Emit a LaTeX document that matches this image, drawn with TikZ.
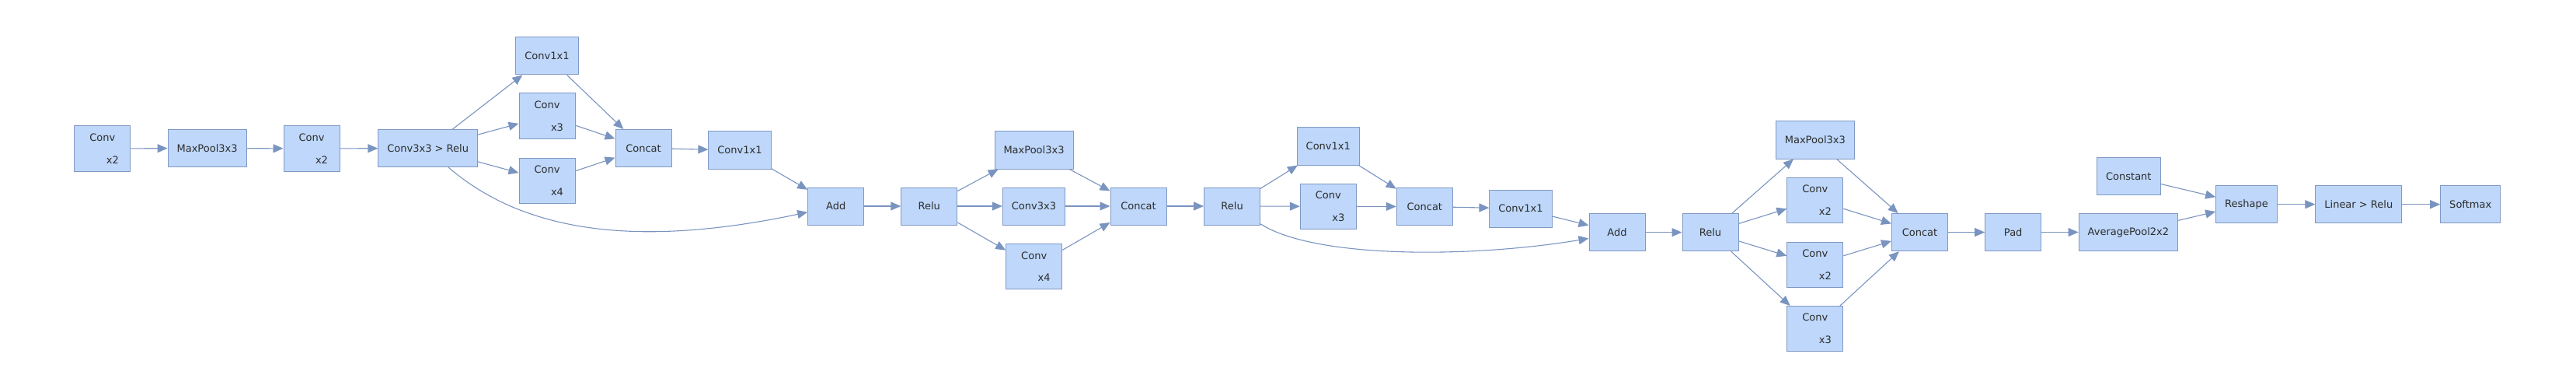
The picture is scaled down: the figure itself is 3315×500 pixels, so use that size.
\documentclass[tikz,border=0pt]{standalone}
\usepackage{fontspec}
\setmainfont{DejaVu Sans}
\usepackage{tikz}
\usetikzlibrary{arrows.meta}
\definecolor{boxfill}{RGB}{190,215,250}
\definecolor{boxline}{RGB}{128,153,196}
\definecolor{edgeline}{RGB}{122,148,192}
\definecolor{labeltext}{RGB}{45,45,45}
\newcommand{\convrep}[1]{Conv\\[13pt]\hspace*{2em}x#1}

\begin{document}
\begin{tikzpicture}[x=1pt,y=-1pt,
  layer/.style={draw=boxline,fill=boxfill,line width=1pt,minimum width=72pt,minimum height=48pt,inner xsep=11.5pt,text=labeltext,font=\fontsize{13}{15.6}\selectfont},
  rep/.style={layer,minimum height=58pt,align=center},
  flow/.style={draw=edgeline,line width=1.1pt,-{Triangle[length=13pt,width=11pt]}}]

\useasboundingbox (0,0) rectangle (3315,500);

\node[rep]   (conv1) at (131.8,191)   {\convrep{2}};
\node[layer] (pool1) at (266.6,190.5) {MaxPool3x3};
\node[rep]   (conv2) at (401,191)     {\convrep{2}};
\node[layer] (stem)  at (550.7,190.5) {Conv3x3 > Relu};

\node[layer] (a1x1)   at (704,72)      {Conv1x1};
\node[rep]   (aconv3) at (704,149)     {\convrep{3}};
\node[rep]   (aconv4) at (704,232)     {\convrep{4}};
\node[layer] (acat)   at (828,190.5)   {Concat};
\node[layer] (aproj)  at (952,193)     {Conv1x1};
\node[layer] (aadd)   at (1075.7,265)  {Add};

\node[layer] (brelu)  at (1195.8,265)   {Relu};
\node[layer] (bpool)  at (1330.5,193)   {MaxPool3x3};
\node[layer] (b3x3)   at (1330.5,265)   {Conv3x3};
\node[rep]   (bconv4) at (1330.7,342.5) {\convrep{4}};
\node[layer] (bcat)   at (1465,265)     {Concat};

\node[layer] (crelu)  at (1585.6,265)   {Relu};
\node[layer] (c1x1)   at (1709.3,188)   {Conv1x1};
\node[rep]   (cconv3) at (1709.3,265.3) {\convrep{3}};
\node[layer] (ccat)   at (1833.3,265.5) {Concat};
\node[layer] (cproj)  at (1957,268)     {Conv1x1};
\node[layer] (cadd)   at (2081,298.7)   {Add};

\node[layer] (drelu)   at (2201,298.7)   {Relu};
\node[layer] (dpool)   at (2335.8,180)   {MaxPool3x3};
\node[rep]   (dconv2a) at (2335.8,257)   {\convrep{2}};
\node[rep]   (dconv2b) at (2335.8,340)   {\convrep{2}};
\node[rep]   (dconv3)  at (2335.8,422.5) {\convrep{3}};
\node[layer] (dcat)    at (2470.5,298.7) {Concat};

\node[layer] (pad)     at (2590.7,298.5) {Pad};
\node[layer] (avg)     at (2738.9,298.5) {AveragePool2x2};
\node[layer] (const)   at (2739.3,226.7) {Constant};
\node[layer] (reshape) at (2891,262.7)   {Reshape};
\node[layer] (linear)  at (3035.3,262.7) {Linear > Relu};
\node[layer] (softmax) at (3179.2,262.7) {Softmax};

\draw[flow] (conv1) -- (pool1);
\draw[flow] (pool1) -- (conv2);
\draw[flow] (conv2) -- (stem);
\foreach \n in {a1x1,aconv3,aconv4} {
  \draw[flow] (stem) -- (\n);
  \draw[flow] (\n) -- (acat);
}
\draw[flow] (acat) -- (aproj);
\draw[flow] (aproj) -- (aadd);
\draw[flow] (stem.-43) .. controls +(110,95) and +(-190,40) .. (aadd.192);
\draw[flow] (aadd) -- (brelu);
\foreach \n in {bpool,b3x3,bconv4} {
  \draw[flow] (brelu) -- (\n);
  \draw[flow] (\n) -- (bcat);
}
\draw[flow] (bcat) -- (crelu);
\foreach \n in {c1x1,cconv3} {
  \draw[flow] (crelu) -- (\n);
  \draw[flow] (\n) -- (ccat);
}
\draw[flow] (ccat) -- (cproj);
\draw[flow] (cproj) -- (cadd);
\draw[flow] (crelu.-32) .. controls +(70,45) and +(-150,25) .. (cadd.192);
\draw[flow] (cadd) -- (drelu);
\foreach \n in {dpool,dconv2a,dconv2b,dconv3} {
  \draw[flow] (drelu) -- (\n);
  \draw[flow] (\n) -- (dcat);
}
\draw[flow] (dcat) -- (pad);
\draw[flow] (pad) -- (avg);
\draw[flow] (avg) -- (reshape);
\draw[flow] (const) -- (reshape);
\draw[flow] (reshape) -- (linear);
\draw[flow] (linear) -- (softmax);
\end{tikzpicture}
\end{document}
